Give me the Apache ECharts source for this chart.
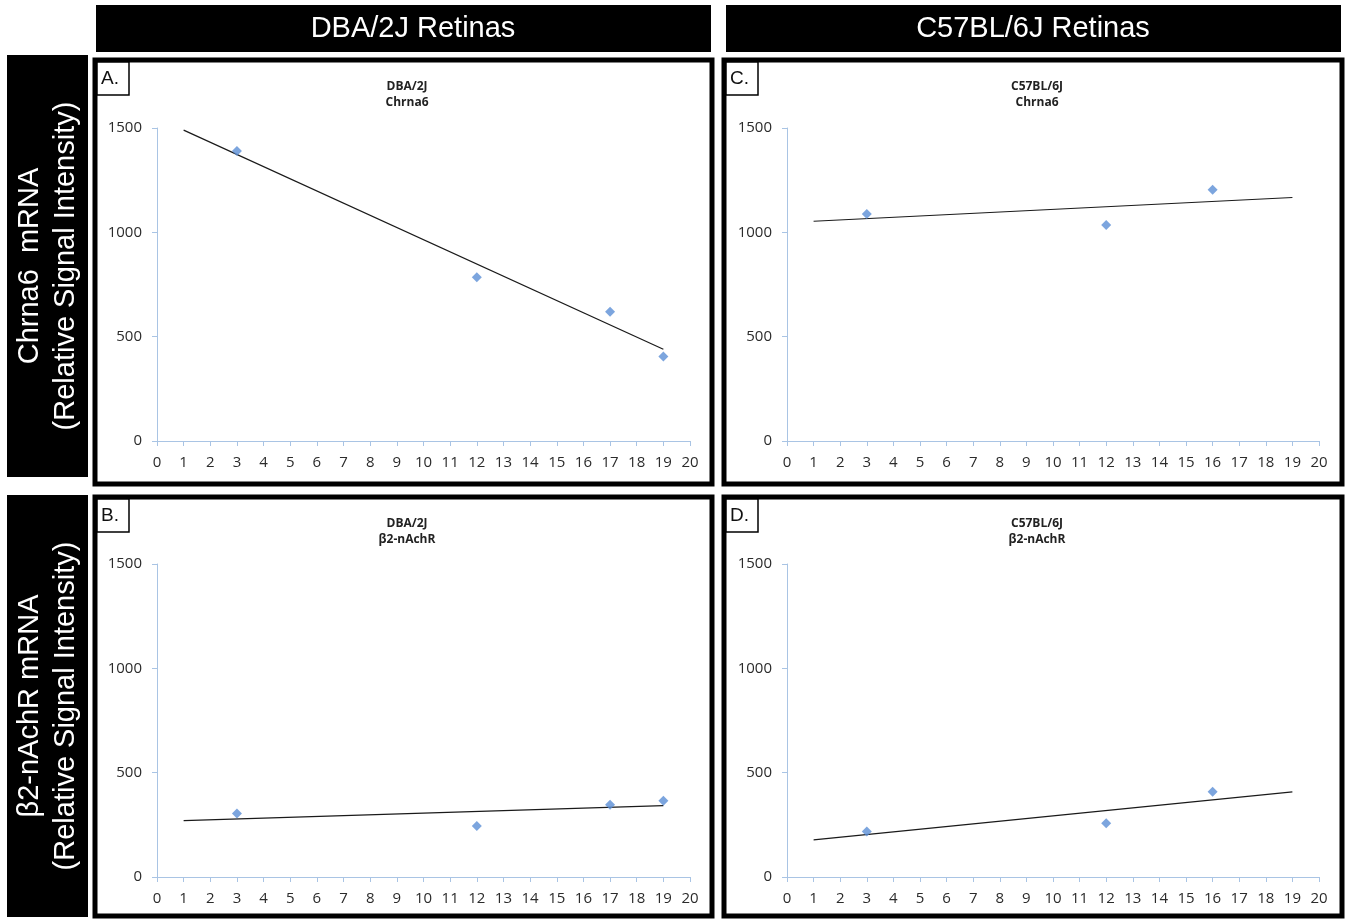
<!DOCTYPE html>
<html><head><meta charset="utf-8">
<script src="https://cdn.jsdelivr.net/npm/echarts@6/dist/echarts.min.js"></script>
<style>html,body{margin:0;padding:0;background:#fff}#c{width:1350px;height:921px}</style>
</head><body><div id="c"></div>
<script>
// ---- data ----
const xTicks = [0,1,2,3,4,5,6,7,8,9,10,11,12,13,14,15,16,17,18,19,20];
const yTicks = [0,500,1000,1500];

const dbaChrnaX = [3,12,17,19];
const dbaChrnaY = [1390,785,620,405];
const dbaChrnaTrend = [[1,1490],[19,440]];

const c57ChrnaX = [3,12,16];
const c57ChrnaY = [1088,1035,1204];
const c57ChrnaTrend = [[1,1053],[19,1167]];

const dbaB2X = [3,12,17,19];
const dbaB2Y = [304,245,346,365];
const dbaB2Trend = [[1,270],[19,342]];

const c57B2X = [3,12,16];
const c57B2Y = [218,257,409];
const c57B2Trend = [[1,178],[19,408]];

const panelTitles = ['DBA/2J\nChrna6','C57BL/6J\nChrna6','DBA/2J\nβ2-nAchR','C57BL/6J\nβ2-nAchR'];
const panelLetters = ['A.','C.','B.','D.'];
const colHeaders = ['DBA/2J Retinas','C57BL/6J Retinas'];
const rowHeaders = ['Chrna6  mRNA\n(Relative Signal Intensity)','β2-nAchR mRNA\n(Relative Signal Intensity)'];

// ---- layout ----
const chart = echarts.init(document.getElementById('c'));
const AX = '#a9c4e4';
const grids = [
  {left:157, top:128, width:533, height:313},
  {left:787, top:128, width:532, height:313},
  {left:157, top:564, width:533, height:313},
  {left:787, top:564, width:532, height:313}
];
const panels = [
  {x:95, y:60, w:617, h:424, cx:402},
  {x:724, y:60, w:618, h:424, cx:1032},
  {x:95, y:497, w:617, h:419, cx:402},
  {x:724, y:497, w:618, h:419, cx:1032}
];
const scatterSets = [
  [dbaChrnaX, dbaChrnaY, dbaChrnaTrend],
  [c57ChrnaX, c57ChrnaY, c57ChrnaTrend],
  [dbaB2X, dbaB2Y, dbaB2Trend],
  [c57B2X, c57B2Y, c57B2Trend]
];
const lab = {color:'#2b2b2b', fontSize:15, fontFamily:'Open Sans'};

const xAxis = grids.map((g,i)=>({
  type:'value', gridIndex:i, min:0, max:20, interval:1,
  axisLine:{show:true, lineStyle:{color:AX, width:1}},
  axisTick:{show:true, length:5, lineStyle:{color:AX}},
  axisLabel:Object.assign({margin:14, showMinLabel:true, showMaxLabel:true,
    formatter:v=>String(xTicks[Math.round(v)])}, lab),
  splitLine:{show:false}
}));
const yAxis = grids.map((g,i)=>({
  type:'value', gridIndex:i, min:0, max:1500, interval:500,
  axisLine:{show:true, lineStyle:{color:AX, width:1}},
  axisTick:{show:true, length:5, lineStyle:{color:AX}},
  axisLabel:Object.assign({margin:15, formatter:v=>String(yTicks[Math.round(v/500)])}, lab),
  splitLine:{show:false}
}));
const series = [];
scatterSets.forEach((s,i)=>{
  series.push({type:'line', xAxisIndex:i, yAxisIndex:i, data:s[2], symbol:'none',
    lineStyle:{color:'#1a1a1a', width:1.2}, silent:true, z:2});
  series.push({type:'scatter', xAxisIndex:i, yAxisIndex:i,
    data:s[0].map((x,k)=>[x, s[1][k]]), symbol:'diamond', symbolSize:10,
    itemStyle:{color:'#5b8fd6'}, z:3});
});
const titles = panels.map((p,i)=>({
  text:panelTitles[i], left:p.cx, top:p.y+14, textAlign:'center',
  textStyle:{fontSize:12, fontWeight:'bold', color:'#222', lineHeight:16, fontFamily:'Open Sans'}
}));

const graphic = [];
// column headers
[[96,413],[726,1033]].forEach((h,i)=>{
  graphic.push({type:'rect', shape:{x:h[0], y:5, width:615, height:47}, style:{fill:'#000'}});
  graphic.push({type:'text', x:h[1], y:29, style:{text:colHeaders[i], fill:'#fff',
    font:'29px "Liberation Sans"', align:'center', verticalAlign:'middle'}});
});
// row headers
[[55,422],[495,422]].forEach((r,i)=>{
  graphic.push({type:'rect', shape:{x:7, y:r[0], width:81, height:r[1]}, style:{fill:'#000'}});
  graphic.push({type:'text', x:48, y:r[0]+r[1]/2, rotation:Math.PI/2, style:{text:rowHeaders[i], fill:'#fff',
    font:'29px "Liberation Sans"', lineHeight:36, align:'center', verticalAlign:'middle'}});
});
// panel borders and letters
panels.forEach((p,i)=>{
  graphic.push({type:'rect', shape:{x:p.x, y:p.y, width:p.w, height:p.h},
    style:{fill:'none', stroke:'#000', lineWidth:5}, z:10});
  graphic.push({type:'rect', shape:{x:p.x+2, y:p.y+2, width:32, height:33},
    style:{fill:'#fff', stroke:'#000', lineWidth:1.5}, z:11});
  graphic.push({type:'text', x:p.x+6, y:p.y+19, style:{text:panelLetters[i], fill:'#111',
    font:'19px "Liberation Sans"', align:'left', verticalAlign:'middle'}, z:12});
});

chart.setOption({
  backgroundColor:'#fff',
  animation:false,
  title:titles,
  grid:grids,
  xAxis:xAxis,
  yAxis:yAxis,
  series:series,
  graphic:graphic
});
</script></body></html>
